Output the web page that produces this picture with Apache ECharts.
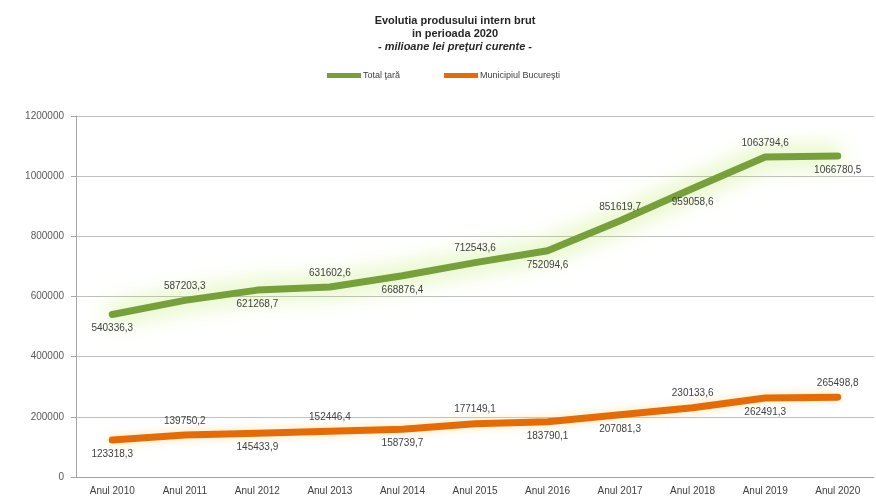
<!DOCTYPE html>
<html>
<head>
<meta charset="utf-8">
<script src="https://cdn.jsdelivr.net/npm/echarts@6/dist/echarts.min.js"></script>
<style>
  html, body { margin: 0; padding: 0; background: #fff; }
  #chart { width: 876px; height: 503px; }
</style>
</head>
<body>
<div id="chart"></div>
<script>
const years = ['Anul 2010', 'Anul 2011', 'Anul 2012', 'Anul 2013', 'Anul 2014', 'Anul 2015',
  'Anul 2016', 'Anul 2017', 'Anul 2018', 'Anul 2019', 'Anul 2020'];
const totalTara = [540336.3, 587203.3, 621268.7, 631602.6, 668876.4, 712543.6,
  752094.6, 851619.7, 959058.6, 1063794.6, 1066780.5];
const bucuresti = [123318.3, 139750.2, 145433.9, 152446.4, 158739.7, 177149.1,
  183790.1, 207081.3, 230133.6, 262491.3, 265498.8];

// where each value label sits, as in the original
const totalLabelPos = ['bottom', 'top', 'bottom', 'top', 'bottom', 'top', 'bottom', 'top', 'bottom', 'top', 'bottom'];
const bucLabelPos = ['bottom', 'top', 'bottom', 'top', 'bottom', 'top', 'bottom', 'bottom', 'top', 'bottom', 'top'];

const fmt = v => String(v).replace('.', ',');
const font = 'Liberation Sans, Arial, sans-serif';

const withLabels = (vals, pos) => vals.map((v, i) => ({
  value: v,
  label: { position: pos[i] }
}));

const chart = echarts.init(document.getElementById('chart'));

const valueLabel = {
  show: true,
  fontSize: 10,
  color: '#404040',
  distance: 9,
  formatter: p => fmt(p.value)
};

chart.setOption({
  animation: false,
  textStyle: { fontFamily: font },
  title: {
    left: 450,
    textAlign: 'center',
    top: 9,
    text: 'Evolutia produsului intern brut\nin perioada 2020',
    subtext: '- milioane lei preţuri curente -',
    itemGap: 0,
    textStyle: { fontSize: 11, fontWeight: 'bold', color: '#262626', lineHeight: 13 },
    subtextStyle: { fontSize: 11, fontWeight: 'bold', fontStyle: 'italic', color: '#262626', lineHeight: 13 }
  },
  legend: {
    top: 66,
    left: 322,
    itemGap: 44,
    icon: 'rect',
    itemWidth: 34,
    itemHeight: 5,
    textStyle: { fontSize: 9, color: '#404040', padding: [0, 0, 0, -3] },
    data: ['Total ţară', 'Municipiul Bucureşti']
  },
  grid: { left: 76, right: 2, top: 116, bottom: 26 },
  xAxis: {
    type: 'category',
    data: years,
    boundaryGap: true,
    axisLine: { lineStyle: { color: '#a6a6a6' } },
    axisTick: { length: 4, lineStyle: { color: '#a6a6a6' } },
    axisLabel: { fontSize: 10, color: '#404040', margin: 9 }
  },
  yAxis: {
    type: 'value',
    min: 0,
    max: 1200000,
    interval: 200000,
    axisLine: { show: true, lineStyle: { color: '#a6a6a6' } },
    axisTick: { show: true, length: 5, lineStyle: { color: '#a6a6a6' } },
    axisLabel: { fontSize: 10, color: '#595959', margin: 12, formatter: v => String(v) },
    splitLine: { lineStyle: { color: '#bfbfbf', width: 1 } }
  },
  series: [
    {
      name: 'Total ţară',
      type: 'line',
      data: withLabels(totalTara, totalLabelPos),
      symbol: 'circle',
      symbolSize: 0.1,
      showSymbol: true,
      color: '#77a03d',
      lineStyle: {
        width: 7,
        color: '#77a03d',
        cap: 'round',
        join: 'round',
        shadowColor: 'rgba(175,228,75,1)',
        shadowBlur: 24
      },
      label: valueLabel,
      z: 3
    },
    {
      name: 'Municipiul Bucureşti',
      type: 'line',
      data: withLabels(bucuresti, bucLabelPos),
      symbol: 'circle',
      symbolSize: 0.1,
      showSymbol: true,
      color: '#e36c0a',
      lineStyle: {
        width: 7,
        color: '#e36c0a',
        cap: 'round',
        join: 'round',
        shadowColor: 'rgba(255,215,140,0.7)',
        shadowBlur: 8
      },
      label: valueLabel,
      z: 3
    }
  ]
});
</script>
</body>
</html>
